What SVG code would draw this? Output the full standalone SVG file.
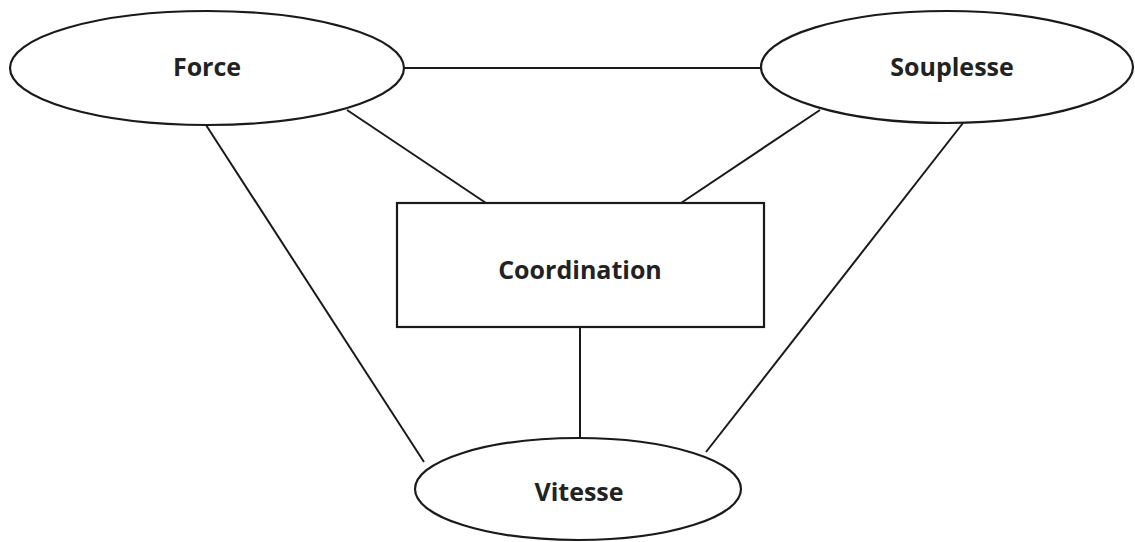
<svg xmlns="http://www.w3.org/2000/svg" width="1135" height="542" viewBox="0 0 1135 542">
<style>
.shape{fill:#fff;stroke:#1a1a1a;stroke-width:2.2}
.conn line{stroke:#1a1a1a;stroke-width:2}
text{font-family:"Open Sans","Liberation Sans",sans-serif;font-weight:bold;font-size:25px;fill:#222;text-anchor:middle}
</style>
<rect width="1135" height="542" fill="#fff"/>
<g id="connectors" class="conn">
<line x1="405" y1="68" x2="761" y2="68"/>
<line x1="347" y1="110" x2="486" y2="203"/>
<line x1="820" y1="110" x2="681" y2="203"/>
<line x1="206" y1="125" x2="424" y2="462"/>
<line x1="963" y1="123" x2="706" y2="452"/>
<line x1="580" y1="327" x2="580" y2="439"/>
</g>
<g id="force">
<ellipse class="shape" cx="207" cy="68" rx="197" ry="57"/>
<text x="207" y="76">Force</text>
</g>
<g id="souplesse">
<ellipse class="shape" cx="947" cy="67" rx="186" ry="56"/>
<text x="952" y="76">Souplesse</text>
</g>
<g id="coordination">
<rect class="shape" x="397" y="203" width="367" height="124"/>
<text x="580" y="279">Coordination</text>
</g>
<g id="vitesse">
<ellipse class="shape" cx="578" cy="489" rx="163" ry="51"/>
<text x="579" y="501">Vitesse</text>
</g>
</svg>
